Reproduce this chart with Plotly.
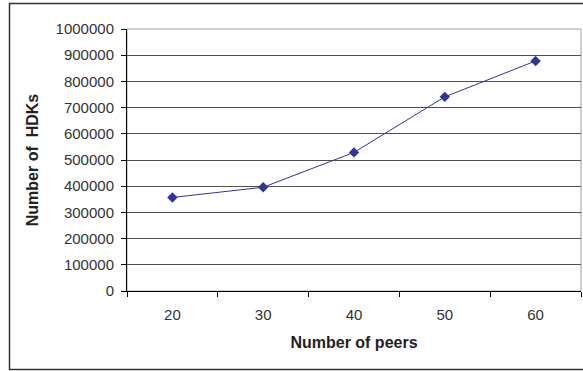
import plotly.graph_objects as go

# Data
peers = [20, 30, 40, 50, 60]
hdks = [357000, 396000, 529000, 741000, 878000]
y_ticks = list(range(0, 1000001, 100000))

W, H = 583, 371
ML, MR, MT, MB = 127, 2, 29, 80
PW, PH = W - ML - MR, H - MT - MB


def px_to_paper_x(px):
    return (px - ML) / PW


def px_to_paper_y(py):
    return 1 - (py - MT) / PH


navy = "#333399"
font_family = "Arial, Liberation Sans, sans-serif"

fig = go.Figure()
fig.add_trace(go.Scatter(
    x=peers, y=hdks, mode="lines+markers",
    line=dict(color=navy, width=1),
    marker=dict(symbol="diamond", size=8, color=navy),
    showlegend=False,
))

fig.update_layout(
    width=W, height=H,
    margin=dict(l=ML, r=MR, t=MT, b=MB),
    paper_bgcolor="white", plot_bgcolor="white",
    font=dict(family=font_family, color="#222222"),
    xaxis=dict(
        range=[15, 65], tickvals=peers, ticktext=[str(p) for p in peers],
        ticks="", showgrid=False, zeroline=False,
        showline=True, linecolor="black", linewidth=1,
        tickfont=dict(size=15, color="#333333"),
        ticklabelstandoff=10,
        minor=dict(tickmode="linear", tick0=15, dtick=10, ticks="outside",
                   ticklen=5, tickcolor="black", tickwidth=1, showgrid=False),
        title=dict(text="<b>Number of peers</b>", font=dict(size=16, color="#222222"),
                   standoff=14),
    ),
    yaxis=dict(
        range=[0, 1000000], tickvals=y_ticks, ticktext=[str(v) for v in y_ticks],
        ticks="outside", ticklen=5, tickcolor="black",
        showgrid=True, gridcolor="#505050", gridwidth=1.2, zeroline=False,
        showline=True, linecolor="black", linewidth=1,
        tickfont=dict(size=15, color="#333333"),
        ticklabelstandoff=4,
        title=dict(text="<b>Number of  HDKs</b>", font=dict(size=16, color="#222222"),
                   standoff=12),
    ),
    shapes=[
        # plot area frame (gray top/right edges)
        dict(type="rect", xref="paper", yref="paper", x0=0, y0=0, x1=1, y1=1,
             line=dict(color="#a0a0a0", width=1), layer="below"),
        # outer chart frame
        dict(type="rect", xref="paper", yref="paper",
             x0=px_to_paper_x(9.5), x1=px_to_paper_x(600),
             y0=px_to_paper_y(369.5), y1=px_to_paper_y(3.5),
             line=dict(color="#333333", width=1.5)),
    ],
)

fig.write_html("out.html")
